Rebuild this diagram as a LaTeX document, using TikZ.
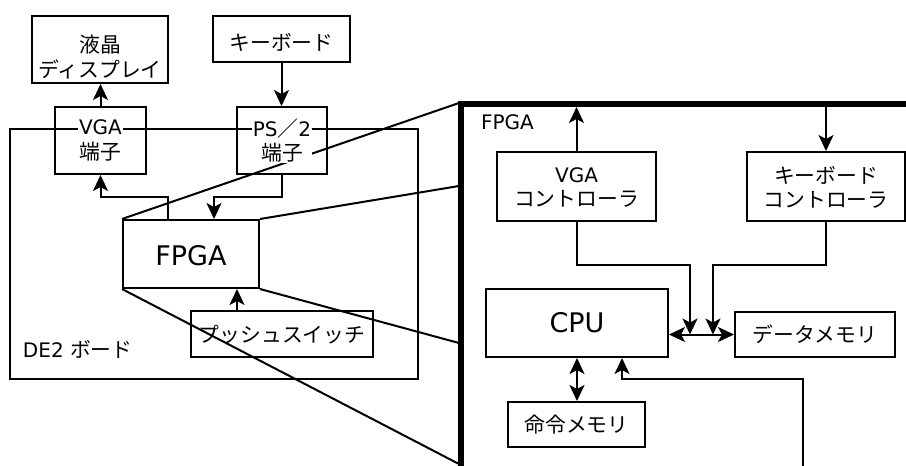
\documentclass[tikz,border=0pt]{standalone}
\usepackage{fontspec}
\setmainfont{DejaVu Sans}
\newfontfamily\cjk[Scale=1.04]{Noto Sans CJK JP}
\usetikzlibrary{arrows.meta,calc}
\tikzset{
  box/.style={draw, line width=2pt, inner sep=0pt},
  lbl/.style={inner sep=1pt, align=center, font=\fontsize{20}{24.5}\selectfont},
  big/.style={inner sep=1pt, align=center, font=\fontsize{27}{30}\selectfont},
  wlbl/.style={lbl, fill=white},
  arr/.style={-{Stealth[length=16pt,width=15pt,inset=4pt]}},
  arrr/.style={{Stealth[length=16pt,width=15pt,inset=4pt]}-{Stealth[length=16pt,width=15pt,inset=4pt]}},
  frame/.style={line width=5.5pt},
}
\begin{document}
\begin{tikzpicture}[x=1pt,y=-1pt,line width=2pt]
\useasboundingbox (0,0) rectangle (906,466);
\clip (0,0) rectangle (906,466);

% DE2 board
\draw[line width=2pt] (10,129) rectangle (418,379);
\node[lbl, anchor=west] (de2) at (21,349) {DE2 {\cjk ボード}};

% boxes left
\node[box, minimum width=136pt, minimum height=67pt] (lcd) at (100,49.5) {};
\node[lbl] (lcdt) at (100,57) {{\cjk 液晶}\\{\cjk ディスプレイ}};
\node[box, minimum width=137pt, minimum height=45.5pt] (kbd) at (281.5,39) {};
\node[lbl] (kbdt) at (281.5,42) {\cjk キーボード};
\node[box, minimum width=91pt, minimum height=67pt] (vgat) at (100.5,140.5) {};
\node[box, minimum width=90pt, minimum height=67pt] (ps2t) at (282,140.5) {};
\node[box, minimum width=136pt, minimum height=68pt] (fpga) at (191,254) {};
\node[big] (fpgat) at (191,256) {FPGA};
\node[box, minimum width=182pt, minimum height=46pt] (psw) at (282,334) {};
\node[lbl] (pswt) at (282,335) {\cjk プッシュスイッチ};

% zoom lines
\coordinate (z1) at (459,103);
\coordinate (z2) at (459,186);
\coordinate (z3) at (459,343);
\coordinate (z4) at (459,464);
\draw (fpga.north west) -- (z1);
\draw (fpga.north east) -- (z2);
\draw (fpga.south east) -- (z3);
\draw (fpga.south west) -- (z4);

% labels with white backing
\node[wlbl] (vgatt) at (100.5,140.5) {VGA\\{\cjk 端子}};
\node[wlbl] (ps2tt) at (282,140.5) {PS{\cjk ／}2\\{\cjk 端子}};

% left arrows
\draw[arr] (vgat.north) -- (vgat.north |- lcd.south);
\draw[arr] (kbd.south) -- (kbd.south |- ps2t.north);
\coordinate (a1) at (168,197);
\draw[arr] (a1 |- fpga.north) -- (a1) -| (vgat.south);
\coordinate (a2) at (214,197);
\draw[arr] (ps2t.south) |- (a2) -- (a2 |- fpga.north);
\coordinate (a3) at (237,311);
\draw[arr] (a3 |- psw.north) -- (a3 |- fpga.south);

% right frame
\coordinate (fc) at (461,104);
\coordinate (fbl) at (461,470);
\coordinate (ftr) at (910,104);
\draw[frame] (fbl) -- (fc) -- (ftr);
\node[lbl, anchor=west] (fpgal) at (479,122) {FPGA};

\node[box, minimum width=159pt, minimum height=69pt] (vgac) at (576.5,186.5) {};
\node[lbl] (vgact) at (576.5,187.5) {VGA\\{\cjk コントローラ}};
\node[box, minimum width=158pt, minimum height=69pt] (kbc) at (826,186.5) {};
\node[lbl] (kbct) at (826,187.5) {{\cjk キーボード}\\{\cjk コントローラ}};
\node[box, minimum width=182pt, minimum height=68pt] (cpu) at (577,323) {};
\node[big] (cput) at (577,323) {CPU};
\node[box, minimum width=160pt, minimum height=45pt] (dmem) at (815,334.5) {};
\node[lbl] (dmemt) at (815,334.5) {\cjk データメモリ};
\node[box, minimum width=137pt, minimum height=45pt] (imem) at (576.5,424.5) {};
\node[lbl] (imemt) at (576.5,425) {\cjk 命令メモリ};

\coordinate (ftop) at (0,107);
\draw[arr] (vgac.north) -- (vgac.north |- ftop);
\draw[arr] (kbc.north |- ftop) -- (kbc.north);
\coordinate (j1) at (690,265);
\coordinate (j2) at (713,265);
\draw[arr] (vgac.south) |- (j1) -- (j1 |- dmem.west);
\draw[arr] (kbc.south) |- (j2) -- (j2 |- dmem.west);
\draw[arrr] (cpu.east |- dmem.west) -- (dmem.west);
\draw[arrr] (cpu.south) -- (cpu.south |- imem.north);
\coordinate (b1) at (803,379);
\coordinate (b0) at (803,470);
\coordinate (b2) at (622,379);
\draw[arr] (b0) -- (b1) -- (b2) -- (b2 |- cpu.south);
\end{tikzpicture}
\end{document}
